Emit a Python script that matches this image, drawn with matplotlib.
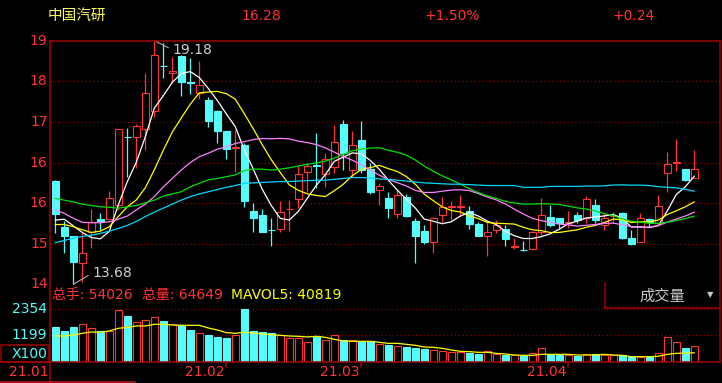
import numpy as np
import matplotlib
matplotlib.use('Agg')
import matplotlib.pyplot as plt
from matplotlib.lines import Line2D
from matplotlib.patches import Rectangle
from matplotlib import transforms

plt.rcParams['font.family'] = ['DejaVu Sans', 'Noto Sans CJK SC']

# ---------------- data ----------------
stock_name = "中国汽研"
last_price = "16.28"
pct_change = "+1.50%"
abs_change = "+0.24"

opens = [16.01, 14.98, 14.76, 14.15, 14.85, 15.15, 15.15, 15.46, 17.01, 17.00,
         17.18, 17.59, 18.61, 18.45, 18.84, 18.24, 17.99, 17.84, 17.60, 17.15,
         16.76, 16.82, 15.33, 15.24, 14.91, 14.92, 15.37, 15.60, 16.21, 16.37,
         16.16, 16.32, 17.31, 16.25, 16.94, 16.28, 15.82, 15.62, 15.26, 15.64,
         15.11, 14.88, 14.63, 15.24, 15.43, 15.43, 15.33, 15.04, 14.78, 14.91,
         14.93, 14.53, 14.46, 14.48, 14.87, 15.19, 15.17, 15.07, 15.24, 15.17,
         15.47, 15.03, 15.22, 15.28, 14.73, 14.64, 15.15, 15.07, 16.19, 16.43,
         16.28, 16.09]
highs = [16.03, 15.10, 14.78, 14.87, 15.38, 15.28, 15.79, 17.18, 17.20, 17.29,
         18.44, 19.18, 19.12, 18.82, 18.85, 18.78, 18.73, 17.90, 17.62, 17.15,
         17.16, 16.86, 15.51, 15.39, 15.17, 15.55, 15.58, 16.34, 16.41, 17.09,
         16.64, 17.28, 17.39, 17.13, 17.37, 16.41, 15.96, 15.77, 15.81, 15.73,
         15.18, 15.02, 15.19, 15.64, 15.56, 15.70, 15.45, 15.09, 15.09, 15.13,
         15.03, 14.73, 14.66, 14.88, 15.62, 15.47, 15.17, 15.33, 15.32, 15.67,
         15.61, 15.32, 15.32, 15.32, 14.90, 15.30, 15.17, 15.70, 16.66, 16.96,
         16.28, 16.71]
lows = [14.83, 14.39, 13.68, 13.74, 14.49, 14.90, 15.13, 15.36, 16.11, 16.30,
        16.71, 17.46, 18.33, 18.22, 17.94, 17.97, 17.86, 17.24, 16.86, 16.51,
        16.22, 15.43, 14.87, 14.85, 14.54, 14.85, 14.88, 15.41, 15.77, 15.85,
        15.88, 16.19, 16.26, 16.11, 16.19, 15.72, 15.47, 15.18, 15.18, 15.21,
        14.15, 14.58, 14.39, 15.06, 15.13, 15.21, 14.93, 14.76, 14.33, 14.83,
        14.55, 14.47, 14.43, 14.45, 14.79, 14.98, 14.94, 14.96, 15.07, 15.06,
        15.07, 14.91, 15.07, 14.70, 14.57, 14.64, 14.98, 15.06, 15.77, 16.24,
        16.02, 16.09]
closes = [15.26, 14.78, 14.18, 14.38, 15.08, 15.11, 15.62, 17.18, 17.00, 17.26,
          17.99, 18.85, 18.60, 18.50, 18.25, 18.22, 18.17, 17.37, 17.15, 16.73,
          16.77, 15.57, 15.18, 14.87, 14.90, 15.32, 15.38, 16.16, 16.35, 16.36,
          16.52, 16.89, 16.64, 16.82, 16.26, 15.77, 15.90, 15.41, 15.70, 15.23,
          14.78, 14.64, 15.17, 15.42, 15.44, 15.44, 15.04, 14.77, 14.85, 15.03,
          14.70, 14.54, 14.45, 14.85, 15.24, 15.02, 15.06, 15.08, 15.13, 15.60,
          15.13, 15.18, 15.23, 14.73, 14.59, 15.17, 15.08, 15.45, 16.39, 16.44,
          16.04, 16.28]

# volume in units of 100 lots
volumes = [1564, 1386, 1564, 1684, 1505, 1386, 1386, 2330, 2056, 1773,
           1863, 1997, 1833, 1684, 1639, 1430, 1281, 1207, 1118, 1073,
           1192, 2354, 1386, 1341, 1296, 1192, 1073, 1073, 894, 1147,
           983, 1207, 983, 968, 924, 924, 820, 775, 715, 670,
           641, 581, 536, 492, 462, 432, 417, 373, 492, 373,
           328, 313, 283, 402, 626, 328, 328, 328, 283, 358,
           358, 313, 298, 313, 238, 209, 238, 402, 1118, 894, 626, 715]
vol_ma = [1162, 1162, 1207, 1281, 1341, 1326, 1386, 1505, 1550, 1609,
          1609, 1684, 1684, 1654, 1639, 1639, 1639, 1520, 1430, 1311,
          1281, 1326, 1296, 1252, 1222, 1192, 1162, 1147, 1118, 1147,
          1103, 1013, 939, 924, 924, 924, 879, 834, 834, 790,
          745, 670, 656, 611, 536, 477, 462, 432, 432, 387,
          358, 313, 298, 298, 343, 343, 343, 343, 313, 313,
          313, 343, 313, 298, 238, 238, 238, 253, 343, 387, 400, 410]
vol_ticks = [2354, 1199]

# moving-average values before enough closes are on screen
ma5_head = [15.13, 15.15, 15.00, 14.85]
ma10_head = [15.03, 15.03, 14.98, 14.91, 14.85, 14.88, 14.98, 15.21, 15.43]
ma20_head = [15.36, 15.28, 15.17, 15.08, 15.07, 15.07, 15.09, 15.15, 15.22, 15.36,
             15.49, 15.66, 15.88, 16.07, 16.26, 16.43, 16.56, 16.64, 16.73]
ma30_head = [15.62, 15.58, 15.54, 15.49, 15.46, 15.43, 15.42, 15.40, 15.43, 15.46,
             15.52, 15.58, 15.67, 15.72, 15.77, 15.88, 15.96, 16.04, 16.07, 16.11,
             16.15, 16.25, 16.28, 16.28, 16.26, 16.28, 16.31, 16.35, 16.39]
ma60_head = [14.62, 14.67, 14.72, 14.76, 14.79, 14.83, 14.88, 14.94, 15.01, 15.10,
             15.21, 15.31, 15.40, 15.49, 15.58, 15.66, 15.72, 15.77, 15.82, 15.87,
             15.91, 15.96, 15.97, 15.98, 15.99, 16.00, 16.00, 16.01, 16.02, 16.03,
             16.03, 16.05, 16.07, 16.09, 16.09, 16.08, 16.06, 16.05, 16.03, 16.01,
             15.99, 15.97, 15.96, 15.95, 15.94, 15.94, 15.93, 15.92, 15.91, 15.91,
             15.91, 15.91, 15.87, 15.87, 15.87, 15.89, 15.89, 15.89, 15.89]

month_labels = ["21.01", "21.02", "21.03", "21.04"]
month_idx = [0, 19, 34, 57]

info_hands = "54026"
info_total = "64649"
info_mavol = "40819"
panel_name = "成交量"

# ---------------- helpers ----------------
W, H = 722, 383
fig = plt.figure(figsize=(W / 100, H / 100), dpi=100, facecolor='black')


def fx(px):
    return px / W


def fy(py):
    return 1 - py / H


RED = '#ff3434'
CYAN = '#54fcfc'
FRAME = '#a00000'
GRIDC = '#a00000'
MA_COLORS = ['#ffffff', '#ffff00', '#ff80ff', '#00e000', '#00d8f8']


def fline(x0, y0, x1, y1, color=FRAME, lw=1.1):
    fig.add_artist(Line2D([fx(x0), fx(x1)], [fy(y0), fy(y1)],
                          transform=fig.transFigure, color=color, lw=lw))


def moving_avg(vals, n, head):
    vals = np.asarray(vals, float)
    out = list(head)
    for i in range(len(head), len(vals)):
        out.append(vals[i - n + 1:i + 1].mean())
    return np.array(out)


o = np.array(opens)
h = np.array(highs)
l = np.array(lows)
c = np.array(closes)
v = np.array(volumes)
n = len(c)
x = np.arange(n)
XL = (-0.59, 73.86)

up = c >= o
edge_cols = np.where(up, RED, CYAN)
face_cols = np.where(up, 'black', CYAN)

# ---------------- price panel ----------------
top_px, bot_px = 40.7, 287.0
ax = fig.add_axes([fx(50), fy(bot_px), 670 / W, (bot_px - top_px) / H])
ax.set_facecolor('black')
pmax, pmin = h.max(), l.min()
step = (pmax - pmin) / 6
px_per_step = 40.6
ax.set_xlim(*XL)
ax.set_ylim(pmax - (bot_px - top_px) / px_per_step * step, pmax)
ax.axis('off')

for k in range(1, 6):
    ax.axhline(pmin + k * step, color=GRIDC, lw=0.8, ls=(0, (1, 2.5)), zorder=1)
for k in range(7):
    val = pmin + k * step
    ax.text(-0.0035, val, f"{val:.0f}", transform=ax.get_yaxis_transform(),
            ha='right', va='center', color=RED, fontsize=10, clip_on=False)

ax.vlines(x, l, h, colors=edge_cols, lw=0.9, zorder=2)
body_bottom = np.minimum(o, c)
body_h = np.maximum(np.abs(c - o), 0.012)
ax.bar(x, body_h, bottom=body_bottom, width=0.74, color=face_cols,
       edgecolor=edge_cols, linewidth=0.8, zorder=3)

ma_list = [moving_avg(c, 5, ma5_head), moving_avg(c, 10, ma10_head),
           moving_avg(c, 20, ma20_head), moving_avg(c, 30, ma30_head),
           moving_avg(c, 60, ma60_head)]
for ma, col in zip(ma_list, MA_COLORS):
    ax.plot(x, ma, color=col, lw=0.9, zorder=4)

imax, imin = int(h.argmax()), int(l.argmin())
ann_col = '#d0d0d0'
ax.annotate(f"{h[imax]:.2f}", xy=(imax, h[imax]), xytext=(13, -6.5),
            textcoords='offset points', ha='left', va='center', color=ann_col,
            fontsize=10, annotation_clip=False,
            arrowprops=dict(arrowstyle='-', color='#b0b0b0', lw=0.8,
                            shrinkA=1, shrinkB=0, relpos=(0, 0.5)))
ax.annotate(f"{l[imin]:.2f}", xy=(imin, l[imin]), xytext=(13.5, 8),
            textcoords='offset points', ha='left', va='center', color=ann_col,
            fontsize=10, annotation_clip=False,
            arrowprops=dict(arrowstyle='-', color='#b0b0b0', lw=0.8,
                            shrinkA=1, shrinkB=0, relpos=(0, 0.5)))

# ---------------- volume panel ----------------
vtop_px, vbot_px = 287.0, 362.0
axv = fig.add_axes([fx(50), fy(vbot_px), 670 / W, (vbot_px - vtop_px) / H])
axv.set_facecolor('black')
axv.set_xlim(*XL)
vmax = v.max()
axv.set_ylim(0, vmax * (vbot_px - vtop_px) / (vbot_px - 309.3))
axv.axis('off')
for t in vol_ticks:
    axv.axhline(t, color=GRIDC, lw=0.8, ls=(0, (1, 2.5)), zorder=1)
    axv.text(-0.004, t, f"{t}", transform=axv.get_yaxis_transform(),
             ha='right', va='center', color=CYAN, fontsize=10, clip_on=False)
axv.bar(x, v, width=0.74, color=face_cols, edgecolor=edge_cols,
        linewidth=0.8, zorder=2)
axv.plot(x, vol_ma, color='#ffff00', lw=0.9, zorder=3)

# ---------------- frame ----------------
fline(50, 40.7, 720, 40.7)
fline(50, 40.7, 50, 383)
fline(720, 40.7, 720, 362)
fline(0, 362, 720, 362)
fline(605, 283, 605, 308)
fline(605, 308, 720, 308)
fline(0, 382, 135, 382, color='#c01818')
fig.add_artist(Rectangle((fx(0.5), fy(362)), fx(48.5), (362 - 345) / H,
                         transform=fig.transFigure, fill=False,
                         edgecolor=FRAME, lw=1.1))
fig.text(fx(47), fy(353.5), "X100", ha='right', va='center', color=CYAN,
         fontsize=10)

# month ticks and labels
blend = transforms.blended_transform_factory(axv.transData, fig.transFigure)
lab_tr = blend + transforms.ScaledTranslation(-1.8 / 100, 0, fig.dpi_scale_trans)
for idx, lab in zip(month_idx, month_labels):
    if idx > 0:
        fig.add_artist(Line2D([idx, idx], [fy(362), fy(367)], transform=blend,
                              color=FRAME, lw=1.1))
    xx = idx if idx > 0 else XL[0]
    fig.text(xx, fy(372), lab, transform=lab_tr, ha='right', va='center',
             color=RED, fontsize=10)

# ---------------- header / info texts ----------------
fig.text(fx(48), fy(16), stock_name, ha='left', va='center', color='#ffff60',
         fontsize=10.5, family=['Noto Sans CJK SC', 'DejaVu Sans'])
fig.text(fx(241), fy(16), last_price, ha='left', va='center', color=RED, fontsize=10)
fig.text(fx(424), fy(16), pct_change, ha='left', va='center', color=RED, fontsize=10)
fig.text(fx(613), fy(16), abs_change, ha='left', va='center', color=RED, fontsize=10)

fig.text(fx(52), fy(295), f"总手: {info_hands}", ha='left', va='center',
         color=RED, fontsize=10)
fig.text(fx(142), fy(295), f"总量: {info_total}", ha='left', va='center',
         color=RED, fontsize=10)
fig.text(fx(231), fy(295), f"MAVOL5: {info_mavol}", ha='left', va='center',
         color='#ffff00', fontsize=10)
fig.text(fx(662), fy(296), panel_name, ha='center', va='center', color='#c8c8c8',
         fontsize=11, family=['Noto Sans CJK SC', 'DejaVu Sans'])
fig.text(fx(710), fy(295), "▼", ha='center', va='center', color='#c8c8c8',
         fontsize=6, family=['DejaVu Sans'])

fig.savefig('out.png', dpi=100, facecolor='black')
